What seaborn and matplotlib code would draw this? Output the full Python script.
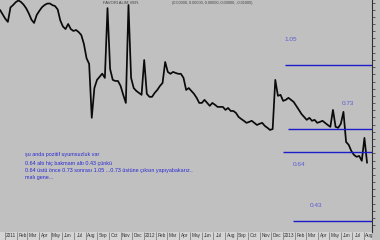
import numpy as np
import pandas as pd
import matplotlib
matplotlib.use("Agg")
import matplotlib.pyplot as plt
import matplotlib.dates as mdates
from matplotlib.ticker import FuncFormatter, NullFormatter, NullLocator, FixedLocator
from matplotlib.patches import Rectangle
import seaborn as sns

# ---------------- data ----------------
start_date = "2010-12-19"
end_date = "2013-08-09"
prices = [1.438, 1.402, 1.368, 1.343, 1.459, 1.479, 1.503, 1.518, 1.505, 1.482,
          1.451, 1.409, 1.360, 1.335, 1.397, 1.430, 1.460, 1.479, 1.491, 1.492,
          1.478, 1.470, 1.442, 1.354, 1.308, 1.289, 1.327, 1.289, 1.275, 1.282,
          1.267, 1.246, 1.184, 1.092, 1.056, 0.776, 0.920, 0.964, 0.981, 0.999,
          0.975, 1.453, 1.026, 0.964, 0.958, 0.958, 0.931, 0.885, 0.845, 1.479,
          0.975, 0.920, 0.905, 0.895, 0.885, 1.080, 0.890, 0.875, 0.875, 0.895,
          0.910, 0.931, 0.947, 1.068, 1.009, 0.998, 1.009, 1.003, 0.998, 0.998,
          0.975, 0.910, 0.920, 0.905, 0.890, 0.870, 0.845, 0.845, 0.860, 0.845,
          0.831, 0.845, 0.836, 0.826, 0.826, 0.826, 0.812, 0.821, 0.807, 0.807,
          0.798, 0.780, 0.771, 0.763, 0.754, 0.758, 0.763, 0.754, 0.745, 0.750,
          0.754, 0.741, 0.733, 0.724, 0.728, 0.964, 0.880, 0.885, 0.855, 0.860,
          0.870, 0.860, 0.850, 0.831, 0.812, 0.793, 0.780, 0.767, 0.776, 0.763,
          0.767, 0.754, 0.758, 0.763, 0.754, 0.745, 0.737, 0.812, 0.737, 0.733,
          0.750, 0.803, 0.676, 0.665, 0.642, 0.628, 0.621, 0.624, 0.607, 0.692,
          0.600]
levels = [1.05, 0.73, 0.64, 0.43]
level_labels = ["1.05", "0.73", "0.64", "0.43"]
level_starts = ["2013-01-05", "2013-01-13", "2012-12-31", "2013-01-26"]
note_lines = ["şu anda pozitif uyumsuzluk var",
              "0.64 altı hiç bakmam altı 0.43 çünkü",
              "0.64 üstü önce 0.73 sonrası 1.05 ...0.73 üstüne çıksın yapıyabakarız..",
              "malı gene..."]
title_left = "FAVORI ALIM VER."
title_right = "(0.00000, 0.00000, 0.00000, 0.00000, -0.01000)"

# ---------------- style ----------------
sns.set_style("white")
plt.rcParams["font.family"] = ["Liberation Sans", "DejaVu Sans"]

BG = "#c0c0c0"
W, H = 380, 240
fig = plt.figure(figsize=(3.8, 2.4), dpi=100, facecolor=BG)

# bottom date strip (behind everything)
strip = fig.add_axes([0, 0, 372 / W, 8 / H], zorder=-5)
strip.set_facecolor("#d4d4d4")
strip.set_xticks([])
strip.set_yticks([])
for s in strip.spines.values():
    s.set_visible(False)

ax = fig.add_axes([0, 8 / H, 372 / W, 232 / H], zorder=1)
ax.set_facecolor(BG)
ax.patch.set_alpha(1)

dates = pd.date_range(start=start_date, end=end_date, periods=len(prices))
df = pd.DataFrame({"date": dates, "price": prices})
sns.lineplot(data=df, x="date", y="price", ax=ax, color="#0a0a0a", lw=1.25)

ax.set_yscale("log")
ax.set_ylim(0.404, 1.522)
x_left = pd.Timestamp("2010-12-19")
x_right = pd.Timestamp("2013-08-22")
ax.set_xlim(x_left, x_right)
ax.set_xlabel("")
ax.set_ylabel("")

# level lines
for lv, st in zip(levels, level_starts):
    ax.hlines(lv, pd.Timestamp(st), x_right, colors="#1c1cc8", lw=1.0, zorder=3)

lab_pos = [(0.766, 0.828), (0.919, 0.556), (0.788, 0.293), (0.833, 0.116)]
for (lx, ly), t in zip(lab_pos, level_labels):
    ax.text(lx, ly, t, transform=ax.transAxes, fontsize=4.6, color="#5a5ad6",
            ha="left", va="center")

note_y = [0.336, 0.297, 0.263, 0.233]
for ny, t in zip(note_y, note_lines):
    ax.text(0.067, ny, t, transform=ax.transAxes, fontsize=3.9, color="#2a2ad2",
            ha="left", va="center")

ax.text(103 / 372, 1 - 3 / 232, title_left, transform=ax.transAxes, fontsize=3.0,
        color="#404040", ha="left", va="center")
ax.text(172 / 372, 1 - 3 / 232, title_right, transform=ax.transAxes, fontsize=2.7,
        color="#404040", ha="left", va="center")

# spines
for s in ["left", "top", "bottom"]:
    ax.spines[s].set_visible(False)
ax.spines["right"].set_visible(True)
ax.spines["right"].set_color("#303030")
ax.spines["right"].set_linewidth(0.8)

# y ticks on right, no labels
ax.yaxis.tick_right()
ax.yaxis.set_major_locator(FixedLocator(np.geomspace(0.42, 1.5, 32)))
ax.yaxis.set_minor_locator(NullLocator())
ax.yaxis.set_major_formatter(NullFormatter())
ax.yaxis.set_minor_formatter(NullFormatter())
ax.tick_params(axis="y", which="major", direction="out", length=2.5, width=0.5,
               color="#303030", right=True, left=False)

# x ticks: separators at month starts, labels mid-month
ax.xaxis.set_major_locator(mdates.MonthLocator())
ax.xaxis.set_major_formatter(NullFormatter())
ax.xaxis.set_minor_locator(mdates.MonthLocator(bymonthday=16))


def month_label(x, pos):
    d = mdates.num2date(x)
    return d.strftime("%Y") if d.month == 1 else d.strftime("%b")


ax.xaxis.set_minor_formatter(FuncFormatter(month_label))
ax.tick_params(axis="x", which="major", direction="out", length=5.8, width=0.5,
               color="#707070", bottom=True, labelbottom=True)
ax.tick_params(axis="x", which="minor", length=0, pad=1.0, labelsize=3.4,
               labelcolor="#303030", bottom=True, labelbottom=True)

fig.savefig("out.png", dpi=100, facecolor=BG)
